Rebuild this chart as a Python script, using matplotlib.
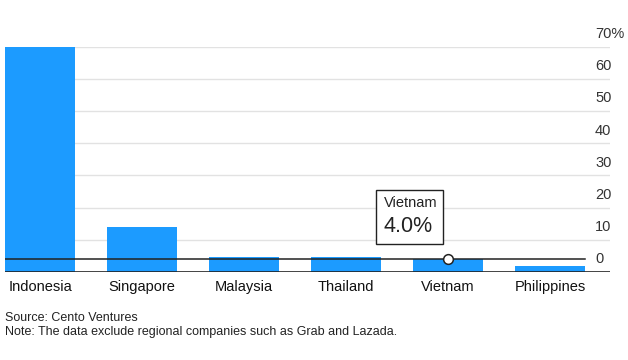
import numpy as np
import matplotlib as mpl
mpl.use('Agg')
import matplotlib.pyplot as plt
from matplotlib.patches import Rectangle

# data
countries = ['Indonesia', 'Singapore', 'Malaysia', 'Thailand', 'Vietnam', 'Philippines']
shares = [69.8, 14.0, 4.7, 4.6, 4.0, 2.0]
yticks = [0, 10, 20, 30, 40, 50, 60, 70]
ytick_labels = ['0', '10', '20', '30', '40', '50', '60', '70%']
highlight = 'Vietnam'

plt.rcParams['font.family'] = ['Liberation Sans', 'DejaVu Sans']

W, H = 628, 360
fig = plt.figure(figsize=(W / 100, H / 100), dpi=100)

# axes spans pixel x 5..610, y 46.5..272
ax = fig.add_axes([5 / W, (H - 272) / H, 605 / W, (272 - 46.5) / H])
ax.set_ylim(0, 70)
half = 35 / 102
xmax_bars = len(countries) - 1 + half
ax.set_xlim(-half, xmax_bars + 25 / 102)
for s in ax.spines.values():
    s.set_visible(False)
ax.set_xticks([])
ax.set_yticks([])

# grid + right-side labels (sitting above the lines)
for t, lab in zip(yticks, ytick_labels):
    if t > 0:
        ax.axhline(t, color='#e2e2e2', lw=1.0, zorder=0)
    ax.annotate(lab, xy=(595 / W, t), xycoords=(fig.transFigure, 'data'),
                xytext=(0, 4), textcoords='offset points', ha='left', va='bottom',
                fontsize=10.5, color='#333333', annotation_clip=False)

x = np.arange(len(countries))
ax.bar(x, shares, width=70 / 102, color='#1c9bff', zorder=2)
ax.axhline(0, color='#222222', lw=1.2, zorder=3)

# hover line + marker
hi = countries.index(highlight)
hv = shares[hi]
ax.plot([-half, xmax_bars], [hv, hv], color='#222222', lw=1.1, zorder=4)
ax.plot([hi], [hv], 'o', ms=7, mfc='white', mec='#222222', mew=1.1, zorder=5)

# tooltip box
box = Rectangle((376 / W, (H - 244) / H), 67 / W, 54 / H, transform=fig.transFigure,
                facecolor='white', edgecolor='#222222', lw=1.0, zorder=6, clip_on=False)
ax.add_patch(box)
fig.text(384 / W, (H - 203) / H, highlight, ha='left', va='center', fontsize=10.5,
         color='#222222', zorder=7)
fig.text(383 / W, (H - 226) / H, '%.1f%%' % hv, ha='left', va='center', fontsize=15.5,
         color='#222222', zorder=7)

# category labels
for i, c in enumerate(countries):
    ax.text(i, -2.6, c, ha='center', va='top', fontsize=10.5, color='#111111')

fig.text(5 / W, (H - 318) / H, 'Source: Cento Ventures', ha='left', va='center',
         fontsize=9, color='#222222')
fig.text(5 / W, (H - 332) / H, 'Note: The data exclude regional companies such as Grab and Lazada.',
         ha='left', va='center', fontsize=9, color='#222222')

plt.savefig('out.png', dpi=100)
